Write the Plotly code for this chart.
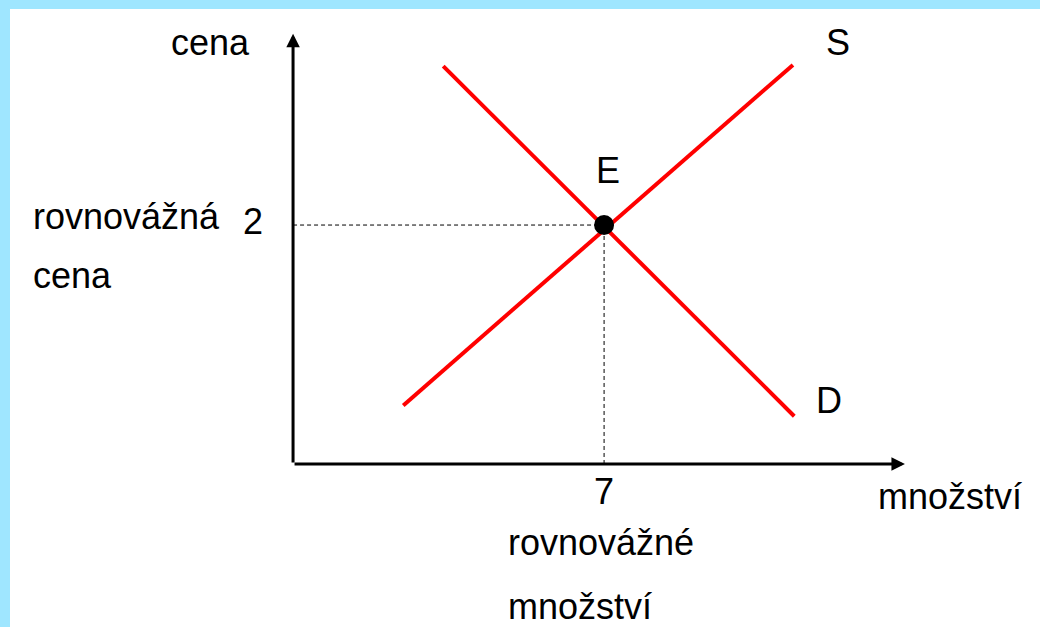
import plotly.graph_objects as go

# supply and demand lines (quantity, price)
supply_q = [2.48, 11.25]
supply_p = [0.49, 3.34]
demand_q = [3.38, 11.28]
demand_p = [3.33, 0.40]

eq_q = 7
eq_p = 2

axis_q_end = 13.77
axis_p_end = 3.60

FONT = "Arial, Liberation Sans, sans-serif"
RED = "#ff0000"

fig = go.Figure()

# guide lines to the equilibrium point
fig.add_trace(go.Scatter(x=[0, eq_q, eq_q], y=[eq_p, eq_p, 0], mode="lines",
                         line=dict(color="black", width=1, dash="4px,3px")))
fig.add_trace(go.Scatter(x=supply_q, y=supply_p, mode="lines", line=dict(color=RED, width=4)))
fig.add_trace(go.Scatter(x=demand_q, y=demand_p, mode="lines", line=dict(color=RED, width=4)))
fig.add_trace(go.Scatter(x=[eq_q], y=[eq_p], mode="markers", marker=dict(color="black", size=20)))

# axes drawn as arrows
for x, y in [(axis_q_end, 0), (0, axis_p_end)]:
    fig.add_annotation(x=x, y=y, ax=0, ay=0, xref="x", yref="y", axref="x", ayref="y",
                       showarrow=True, arrowhead=2, arrowsize=0.9, arrowwidth=3,
                       arrowcolor="black", standoff=0, text="")

labels = [
    ("cena", -1.85, 3.53, "center"),
    ("S", 12.27, 3.53, "center"),
    ("E", 7.09, 2.46, "center"),
    ("rovnovážná", -5.90, 2.07, "left"),
    ("2", -0.90, 2.03, "center"),
    ("cena", -5.90, 1.58, "left"),
    ("D", 12.06, 0.53, "center"),
    ("7", 7.0, -0.23, "center"),
    ("rovnovážné", 4.80, -0.66, "left"),
    ("množství", 4.80, -1.19, "left"),
    ("množství", 13.13, -0.27, "left"),
]
for text, x, y, anchor in labels:
    fig.add_annotation(x=x, y=y, xref="x", yref="y", text=text, showarrow=False,
                       xanchor=anchor, yanchor="middle",
                       font=dict(family=FONT, size=36, color="black"))

fig.update_xaxes(range=[-6.37, 16.81], visible=False)
fig.update_yaxes(range=[-1.364, 3.808], visible=False)
fig.update_layout(
    width=1040, height=627,
    margin=dict(l=10, r=0, t=9, b=0),
    paper_bgcolor="#9fe6ff",
    plot_bgcolor="white",
    showlegend=False,
)

fig.write_html("out.html", config={"displayModeBar": False},
               post_script="document.body.style.margin='0';")
